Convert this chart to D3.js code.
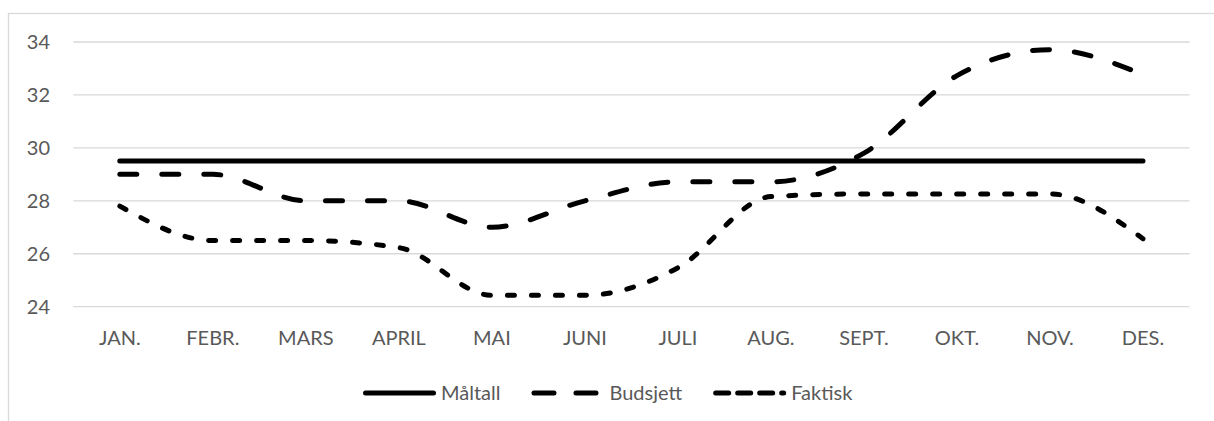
<!DOCTYPE html>
<html>
<head>
<meta charset="utf-8">
<script src="https://cdn.jsdelivr.net/npm/d3@7"></script>
<style>
  body { margin: 0; background: #fff; }
  svg { display: block; font-family: Lato, "Open Sans", sans-serif; }
</style>
</head>
<body>
<div id="chart"></div>
<script>
// values
var months = ["JAN.", "FEBR.", "MARS", "APRIL", "MAI", "JUNI", "JULI", "AUG.", "SEPT.", "OKT.", "NOV.", "DES."];
var maltall = [29.5, 29.5, 29.5, 29.5, 29.5, 29.5, 29.5, 29.5, 29.5, 29.5, 29.5, 29.5];
var budsjett = [29, 29, 28, 28, 27, 28, 28.72, 28.72, 29.8, 32.73, 33.71, 32.77];
var faktisk = [27.8, 26.5, 26.5, 26.23, 24.43, 24.43, 25.47, 28.16, 28.26, 28.26, 28.26, 26.57];
var yTicks = [24, 26, 28, 30, 32, 34];

var seriesNames = ["Måltall", "Budsjett", "Faktisk"];
var seriesValues = [maltall, budsjett, faktisk];
var dashes = [null, "17,25", "7,17"];
var legendDashes = [null, "20,22", "13,9"];

var width = 1214, height = 421;
var textColor = "#595959";

var svg = d3.select("#chart").append("svg")
    .attr("width", width)
    .attr("height", height);

// chart frame (runs off the right and bottom edge like the reference)
svg.append("rect")
    .attr("x", 8.5)
    .attr("y", 13.5)
    .attr("width", 1220)
    .attr("height", 500)
    .attr("fill", "#fff")
    .attr("stroke", "#d9d9d9")
    .attr("stroke-width", 1.3);

var x = d3.scaleBand()
    .domain(months)
    .range([73.3, 1189.5]);

var y = d3.scaleLinear()
    .domain([24, 34])
    .range([306.7, 42]);

// gridlines
svg.append("g")
    .selectAll("line")
    .data(yTicks)
    .enter().append("line")
    .attr("x1", x.range()[0])
    .attr("x2", x.range()[1])
    .attr("y1", function(d) { return y(d); })
    .attr("y2", function(d) { return y(d); })
    .attr("stroke", "#d9d9d9")
    .attr("stroke-width", 1.3);

// y axis labels
var yAxis = svg.append("g")
    .attr("transform", "translate(50,0)")
    .call(d3.axisLeft(y).tickValues(yTicks).tickSize(0).tickPadding(0));
yAxis.select(".domain").remove();
yAxis.selectAll("text")
    .attr("fill", textColor)
    .style("font-size", "20px")
    .style("font-family", "Lato, 'Open Sans', sans-serif");

// x axis labels
var xAxis = svg.append("g")
    .attr("transform", "translate(0,331)")
    .call(d3.axisBottom(x).tickSize(0).tickPadding(0));
xAxis.select(".domain").remove();
xAxis.selectAll("text")
    .attr("fill", textColor)
    .style("font-size", "20px")
    .style("font-family", "Lato, 'Open Sans', sans-serif");

var line = d3.line()
    .x(function(d, i) { return x(months[i]) + x.bandwidth() / 2; })
    .y(function(d) { return y(d); })
    .curve(d3.curveMonotoneX);

for (var i = 0; i < seriesValues.length; i++) {
    svg.append("path")
        .datum(seriesValues[i])
        .attr("d", line)
        .attr("fill", "none")
        .attr("stroke", "#000")
        .attr("stroke-width", 5)
        .attr("stroke-linecap", "round")
        .attr("stroke-linejoin", "round")
        .attr("stroke-dasharray", dashes[i]);
}

// legend
var legend = svg.append("g");
var sampleLen = 73, textGap = 5, itemGap = 31, legendY = 393;
var cx = 363;
for (var k = 0; k < seriesNames.length; k++) {
    legend.append("line")
        .attr("x1", cx + 2.5)
        .attr("x2", cx + sampleLen - 2.5)
        .attr("y1", legendY)
        .attr("y2", legendY)
        .attr("stroke", "#000")
        .attr("stroke-width", 5)
        .attr("stroke-linecap", "round")
        .attr("stroke-dasharray", legendDashes[k]);
    var t = legend.append("text")
        .attr("x", cx + sampleLen + textGap)
        .attr("y", legendY)
        .attr("dy", "0.35em")
        .attr("fill", textColor)
        .style("font-size", "20px")
        .text(seriesNames[k]);
    cx += sampleLen + textGap + t.node().getComputedTextLength() + itemGap;
}
</script>
</body>
</html>
